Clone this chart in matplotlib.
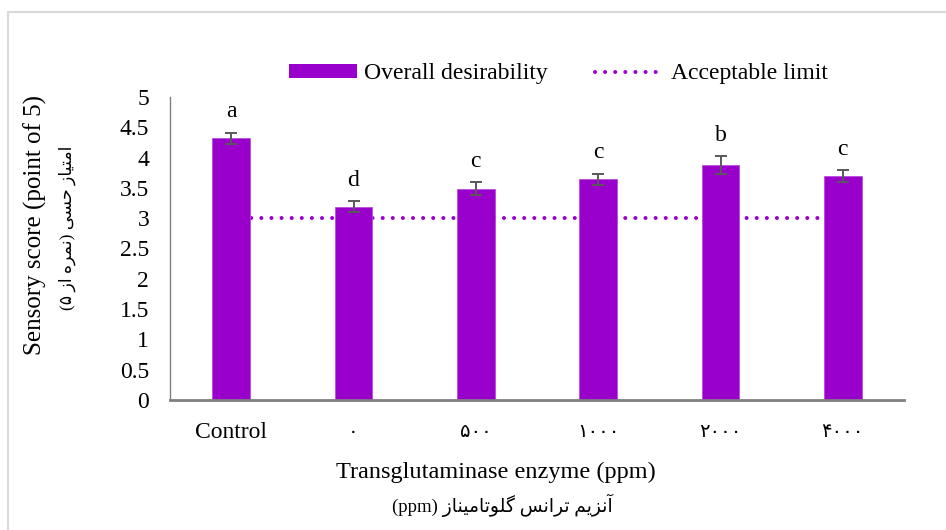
import re
import matplotlib
matplotlib.use("Agg")
import matplotlib.pyplot as plt
from matplotlib.lines import Line2D
from matplotlib.patches import Patch

# ---------------- data ----------------
categories = ["Control", "۰", "۵۰۰", "۱۰۰۰", "۲۰۰۰", "۴۰۰۰"]
desirability = [4.32, 3.19, 3.49, 3.64, 3.88, 3.69]
errors = [0.09, 0.09, 0.10, 0.095, 0.15, 0.10]
letters = ["a", "d", "c", "c", "b", "c"]
acceptable_limit = [3.0, 3.0, 3.0, 3.0, 3.0, 3.0]
yticks = [0, 0.5, 1, 1.5, 2, 2.5, 3, 3.5, 4, 4.5, 5]

ylabel_en = "Sensory score (point of 5)"
ylabel_fa = "امتیاز حسی (نمره از ۵)"
xlabel_en = "Transglutaminase enzyme (ppm)"
xlabel_fa = "آنزیم ترانس گلوتامیناز (ppm)"
legend_labels = ["Overall desirability", "Acceptable limit"]

# ---------- minimal Persian shaping (matplotlib has no RTL/shaping) ----------
FORMS = {  # isolated, final, initial, medial
    "ا": (0xFE8D, 0xFE8E, None, None),
    "آ": (0xFE81, 0xFE82, None, None),
    "ز": (0xFEAF, 0xFEB0, None, None),
    "ر": (0xFEAD, 0xFEAE, None, None),
    "و": (0xFEED, 0xFEEE, None, None),
    "م": (0xFEE1, 0xFEE2, 0xFEE3, 0xFEE4),
    "ت": (0xFE95, 0xFE96, 0xFE97, 0xFE98),
    "ی": (0xFBFC, 0xFBFD, 0xFBFE, 0xFBFF),
    "ح": (0xFEA1, 0xFEA2, 0xFEA3, 0xFEA4),
    "س": (0xFEB1, 0xFEB2, 0xFEB3, 0xFEB4),
    "ن": (0xFEE5, 0xFEE6, 0xFEE7, 0xFEE8),
    "ه": (0xFEE9, 0xFEEA, 0xFEEB, 0xFEEC),
    "گ": (0xFB92, 0xFB93, 0xFB94, 0xFB95),
    "ل": (0xFEDD, 0xFEDE, 0xFEDF, 0xFEE0),
}


def shape_rtl(text):
    out = []
    n = len(text)
    for i, ch in enumerate(text):
        if ch not in FORMS:
            out.append(ch)
            continue
        iso, fin, ini, med = FORMS[ch]
        prev = text[i - 1] if i > 0 else ""
        nxt = text[i + 1] if i < n - 1 else ""
        jp = prev in FORMS and FORMS[prev][2] is not None
        jn = nxt in FORMS and ini is not None
        if jp and jn:
            cp = med
        elif jp:
            cp = fin
        elif jn:
            cp = ini
        else:
            cp = iso
        out.append(chr(cp))
    s = "".join(out)[::-1]
    s = re.sub(r"[A-Za-z0-9\u06F0-\u06F9]+", lambda m: m.group(0)[::-1], s)
    s = s.translate(str.maketrans("()", ")("))
    return s


# ---------------- figure ----------------
PURPLE = "#9900CC"
serif = ["Liberation Serif", "DejaVu Serif"]
fa_font = ["Liberation Serif", "DejaVu Sans"]

plt.rcParams["font.family"] = serif
fig = plt.figure(figsize=(9.46, 5.30), dpi=100)
ax = fig.add_axes([170 / 946, 1 - 400 / 530, (904 - 170) / 946, (400 - 97) / 530])

x = list(range(len(categories)))
ax.plot(x, acceptable_limit, color=PURPLE, linestyle=(0, (0.01, 2.5)),
        linewidth=2.9, dash_capstyle="round", zorder=1)
ax.bar(x, desirability, width=0.31, color=PURPLE, edgecolor="#B84DDB",
       linewidth=0.6, zorder=2)
ax.errorbar(x, desirability, yerr=errors, fmt="none", ecolor="#595959",
            elinewidth=1.4, capsize=4.5, capthick=1.4, zorder=3)

for xi, v, e, lab in zip(x, desirability, errors, letters):
    ax.annotate(lab, (xi, v + e), xytext=(0, 11), textcoords="offset points",
                ha="center", va="baseline", fontsize=17, color="black")

ax.set_xlim(-0.5, len(categories) - 0.5)
ax.set_ylim(0, 5)
ax.set_yticks(yticks)
ax.set_yticklabels([f"{t:g}" for t in yticks])
ax.set_xticks(x)
ax.set_xticklabels(categories)
for i, lbl in enumerate(ax.get_xticklabels()):
    if i > 0:
        lbl.set_fontfamily(["DejaVu Sans"])
        lbl.set_fontsize(14)
    else:
        lbl.set_fontsize(17)
ax.tick_params(axis="y", length=0, pad=15, labelsize=17)
ax.tick_params(axis="x", length=0, pad=16)

for s in ["top", "right"]:
    ax.spines[s].set_visible(False)
ax.spines["left"].set_color("#808080")
ax.spines["left"].set_linewidth(1.0)
ax.spines["bottom"].set_color("#808080")
ax.spines["bottom"].set_linewidth(2.0)

# axis titles
fig.text(35 / 946, 1 - 225 / 530, ylabel_en, rotation=90, ha="center",
         va="center", fontsize=18)
fig.text(67 / 946, 1 - 228 / 530, shape_rtl(ylabel_fa), rotation=90,
         ha="center", va="center", fontsize=12.5, family=fa_font)
fig.text(496 / 946, 1 - 472 / 530, xlabel_en, ha="center", va="center",
         fontsize=17.5)
fig.text(502 / 946, 1 - 505 / 530, shape_rtl(xlabel_fa), ha="center",
         va="center", fontsize=13.5, family=fa_font)

# legend
handles = [Patch(facecolor=PURPLE, edgecolor="none"),
           Line2D([], [], color=PURPLE, linestyle=(0, (0.01, 2.5)),
                  linewidth=2.9, dash_capstyle="round")]
fig.legend(handles, legend_labels, loc="center", ncol=2,
           bbox_to_anchor=(558 / 946, 1 - 74 / 530), frameon=False,
           fontsize=17, handlelength=2.9, handleheight=0.5,
           handletextpad=0.3, columnspacing=2.0)

# chart-area border (light grey)
fig.add_artist(plt.Rectangle((8 / 946, -0.1), 1.2, 1 - 12 / 530 + 0.1,
                             transform=fig.transFigure, fill=False,
                             edgecolor="#D9D9D9", linewidth=1.5))

fig.savefig("out.png", dpi=100)
